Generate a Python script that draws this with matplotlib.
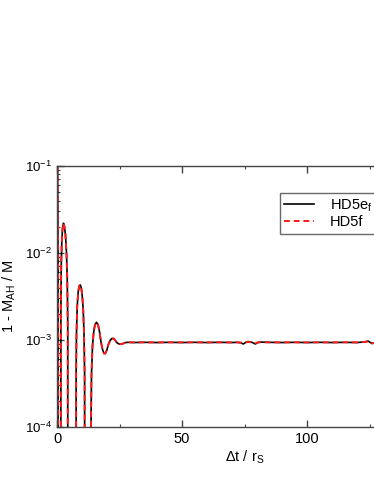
import numpy as np
import matplotlib
matplotlib.use("Agg")
import matplotlib.pyplot as plt
from matplotlib.ticker import MultipleLocator, LogLocator, NullFormatter

plt.rcParams['font.family'] = ['Liberation Sans', 'DejaVu Sans']
plt.rcParams['mathtext.fontset'] = 'custom'
plt.rcParams['mathtext.rm'] = 'Liberation Sans'
plt.rcParams['mathtext.it'] = 'Liberation Sans'
plt.rcParams['mathtext.default'] = 'regular'

# temps (en unites de r_S) et 1 - M_AH/M, lus sur la figure
# les valeurs negatives sont les passages sous zero (coupes en echelle log)
t_e = [0.0, 0.15, 0.3, 0.45, 0.6, 1.0, 1.45,
       1.55, 1.7, 1.9, 2.2, 2.6, 3.0, 3.4, 3.8, 4.1, 4.3, 4.45,
       5.5, 6.5, 7.55,
       7.65, 7.8, 8.1, 8.5, 8.9, 9.3, 9.7, 10.1, 10.5, 10.8, 11.05, 11.2,
       12.3, 13.45,
       13.6, 13.8, 14.2, 14.7, 15.2, 15.8, 16.4, 17.0, 17.6, 18.2, 18.8,
       19.3, 19.9, 20.5, 21.2, 21.9, 22.6, 23.3, 24.0, 24.8, 25.6, 26.4,
       27.2, 28.0, 29.0, 30.0, 35.0, 40.0, 45.0, 50.0, 55.0, 60.0, 65.0,
       70.0, 72.0, 73.5, 74.5, 75.5, 76.5, 78.0, 79.3, 80.5, 82.0, 85.0,
       90.0, 95.0, 100.0, 105.0, 110.0, 115.0, 120.0, 123.0, 124.5,
       126.0, 127.5, 130.0]
y_e = [1.0, 0.2, 0.04, 0.008, -0.01, -0.02, -1e-3,
       2e-3, 7e-3, 1.3e-2, 1.9e-2, 2.2e-2, 2.0e-2, 1.6e-2, 1.0e-2, 5e-3, 1.5e-3, -1e-3,
       -5e-3, -8e-3, -4e-4,
       4e-4, 1.2e-3, 2.5e-3, 3.6e-3, 4.2e-3, 4.3e-3, 4.0e-3, 3.2e-3, 2.2e-3, 1.2e-3, 4e-4, -1e-4,
       -1e-3, -1e-4,
       1e-4, 4e-4, 8.5e-4, 1.25e-3, 1.5e-3, 1.6e-3, 1.5e-3, 1.25e-3, 9.5e-4, 7.8e-4, 7.0e-4,
       7.0e-4, 7.6e-4, 8.8e-4, 9.8e-4, 1.04e-3, 1.04e-3, 9.9e-4, 9.3e-4, 9.0e-4, 8.95e-4, 9.1e-4,
       9.3e-4, 9.4e-4, 9.4e-4, 9.35e-4, 9.4e-4, 9.35e-4, 9.4e-4, 9.35e-4, 9.4e-4, 9.35e-4, 9.4e-4,
       9.35e-4, 9.4e-4, 9.3e-4, 9.0e-4, 9.4e-4, 9.6e-4, 9.4e-4, 9.0e-4, 9.4e-4, 9.45e-4, 9.4e-4,
       9.35e-4, 9.4e-4, 9.35e-4, 9.4e-4, 9.35e-4, 9.4e-4, 9.35e-4, 9.5e-4, 9.7e-4,
       9.1e-4, 9.3e-4, 9.3e-4]

t_f = t_e
y_f = [1.0, 0.22, 0.045, 0.009, -0.01, -0.02, -1e-3,
       2.1e-3, 7.2e-3, 1.3e-2, 1.9e-2, 2.2e-2, 2.0e-2, 1.6e-2, 1.0e-2, 5.1e-3, 1.6e-3, -1e-3,
       -5e-3, -8e-3, -4e-4,
       4.2e-4, 1.2e-3, 2.5e-3, 3.6e-3, 4.2e-3, 4.3e-3, 4.0e-3, 3.2e-3, 2.2e-3, 1.2e-3, 4.2e-4, -1e-4,
       -1e-3, -1e-4,
       1.1e-4, 4.1e-4, 8.6e-4, 1.25e-3, 1.5e-3, 1.6e-3, 1.5e-3, 1.25e-3, 9.5e-4, 7.8e-4, 7.0e-4,
       7.0e-4, 7.6e-4, 8.8e-4, 9.8e-4, 1.04e-3, 1.04e-3, 9.9e-4, 9.3e-4, 9.0e-4, 8.95e-4, 9.1e-4,
       9.3e-4, 9.4e-4, 9.4e-4, 9.4e-4, 9.4e-4, 9.4e-4, 9.4e-4, 9.4e-4, 9.4e-4, 9.4e-4, 9.4e-4,
       9.4e-4, 9.4e-4, 9.35e-4, 9.2e-4, 9.4e-4, 9.5e-4, 9.4e-4, 9.2e-4, 9.4e-4, 9.4e-4, 9.4e-4,
       9.4e-4, 9.4e-4, 9.4e-4, 9.4e-4, 9.4e-4, 9.4e-4, 9.4e-4, 9.5e-4, 9.65e-4,
       9.2e-4, 9.3e-4, 9.3e-4]

labels = ["HD5e$_f$", "HD5f"]
x_ticks = [0, 50, 100]
y_ticks = [1e-4, 1e-3, 1e-2, 1e-1]
y_ticklabels = ["10$^{-4}$", "10$^{-3}$", "10$^{-2}$", "10$^{-1}$"]

fig = plt.figure(figsize=(3.74, 4.84), dpi=100)
# l'axe depasse a droite de la figure (coupe comme dans l'original)
ax = fig.add_axes([57/374, 57/484, 375/374, 261/484])

ax.plot(t_e, y_e, color='black', lw=1.2, label=labels[0])
ax.plot(t_f, y_f, color='#ff1a1a', lw=1.4, ls=(0, (3, 2)), label=labels[1])

ax.set_yscale('log', nonpositive='clip')
ax.set_xlim(0, 150)
ax.set_ylim(1e-4, 1e-1)

ax.set_xticks(x_ticks)
ax.xaxis.set_minor_locator(MultipleLocator(25))
ax.set_yticks(y_ticks)
ax.set_yticklabels(y_ticklabels, fontsize=9.5)
ax.yaxis.set_minor_locator(LogLocator(base=10, subs=np.arange(2, 10)))
ax.yaxis.set_minor_formatter(NullFormatter())
ax.tick_params(axis='x', labelsize=10.5)
ax.tick_params(which='both', direction='in', top=True, right=True, color='#444444')
ax.tick_params(which='major', length=5, width=1)
ax.tick_params(which='minor', length=2.5, width=0.8)
for s in ax.spines.values():
    s.set_color('#444444')
    s.set_linewidth(1.0)

ax.set_xlabel("$\\Delta$t / r$_S$", fontsize=10.5, labelpad=2)
ax.set_ylabel("1 - M$_{AH}$ / M", fontsize=10.5, labelpad=5)

leg = ax.legend(loc='upper left', bbox_to_anchor=(280/374, (484-193)/484),
                bbox_transform=fig.transFigure, borderaxespad=0,
                fontsize=10.5, fancybox=False, handlelength=2.0,
                handletextpad=1.1, borderpad=0.3, labelspacing=0.1)
leg.get_frame().set_edgecolor('#444444')
leg.get_frame().set_linewidth(1.0)

fig.savefig("out.png", dpi=100)
